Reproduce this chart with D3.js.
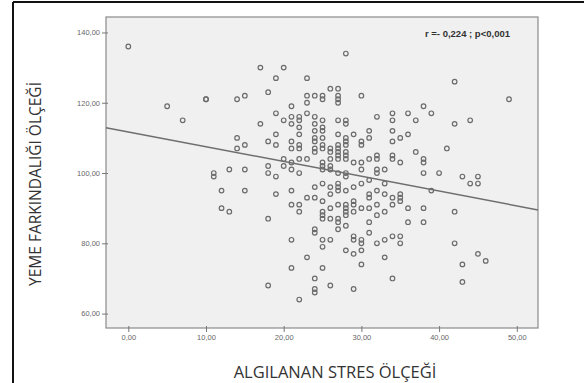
<!DOCTYPE html>
<html>
<head>
<meta charset="utf-8">
<script src="https://cdn.jsdelivr.net/npm/d3@7"></script>
<style>
  html, body { margin: 0; padding: 0; background: #fff; }
  svg { display: block; }
</style>
</head>
<body>
<div id="chart"></div>
<script>
// stress score (x) -> list of awareness scores (y)
const stressLevels = [0, 5, 7, 10, 11, 12, 13, 14, 15, 17, 18, 19, 20, 21, 22, 23, 24, 25, 26, 27, 28, 29, 30, 31, 32, 33, 34, 35, 36, 37, 38, 39, 40, 41, 42, 43, 44, 45, 46, 49];
const awarenessByStress = [
    [136],
    [119],
    [115],
    [121, 121],
    [100, 99],
    [95, 90],
    [101, 89],
    [121, 110, 107],
    [122, 108, 101, 95],
    [130, 114],
    [123, 109, 102, 100, 87, 68],
    [127, 117, 111, 108, 99, 94],
    [130, 115, 104, 102],
    [119, 116, 114, 109, 107, 103, 101, 95, 91, 81, 73],
    [116, 115, 113, 111, 108, 107, 104, 100, 91, 89, 64],
    [127, 122, 120, 117, 104, 93, 76],
    [122, 116, 114, 112, 110, 109, 107, 106, 96, 93, 84, 83, 70, 67, 66],
    [122, 121, 115, 113, 112, 110, 108, 107, 103, 102, 101, 97, 92, 89, 88, 87, 81, 79, 73],
    [124, 107, 106, 104, 102, 101, 96, 94, 90, 87, 81, 68],
    [124, 122, 121, 120, 115, 111, 108, 107, 106, 105, 104, 100, 97, 96, 95, 91, 87, 86, 84],
    [134, 115, 114, 110, 109, 108, 106, 105, 104, 100, 99, 95, 91, 90, 89, 88, 85, 78],
    [111, 103, 96, 92, 91, 89, 82, 81, 77, 67],
    [122, 109, 108, 103, 101, 97, 90, 81, 80, 78, 74],
    [112, 110, 104, 98, 94, 93, 90, 86, 83],
    [116, 105, 104, 101, 100, 95, 91, 88, 80],
    [101, 97, 94, 89, 81, 76],
    [117, 115, 112, 109, 105, 104, 93, 91, 82, 70],
    [110, 103, 94, 93, 92, 82, 80],
    [117, 111, 90, 86],
    [115, 106],
    [119, 104, 103, 100, 90, 86],
    [117, 95],
    [100],
    [107],
    [126, 114, 89, 80],
    [99, 74, 69],
    [115, 97],
    [99, 97, 77],
    [75],
    [121]
];
const xTicks = [0, 10, 20, 30, 40, 50];
const yTicks = [60, 80, 100, 120, 140];
// fit line
const fitIntercept = 111.7;
const fitSlope = -0.421;
const statText = 'r =- 0,224 ; p<0,001';
const xTitle = 'ALGILANAN STRES ÖLÇEĞİ';
const yTitle = 'YEME  FARKINDALIĞI ÖLÇEĞİ';

const points = [];
stressLevels.forEach((s, i) => awarenessByStress[i].forEach(v => points.push({ x: s, y: v })));

const width = 584, height = 383;
const plot = { left: 106, top: 17, right: 538, bottom: 328 };

const svg = d3.select('#chart').append('svg')
    .attr('width', width)
    .attr('height', height);

// outer frame (only top/left visible in the crop)
svg.append('line').attr('x1', 13).attr('x2', 13).attr('y1', 2).attr('y2', height)
    .attr('stroke', '#111').attr('stroke-width', 2);
svg.append('line').attr('x1', 13).attr('x2', width).attr('y1', 2).attr('y2', 2)
    .attr('stroke', '#111').attr('stroke-width', 2);

const x = d3.scaleLinear().domain([-2.87, 52.73]).range([plot.left, plot.right]);
const y = d3.scaleLinear().domain([55.9, 144.4]).range([plot.bottom, plot.top]);

svg.append('rect')
    .attr('x', plot.left).attr('y', plot.top)
    .attr('width', plot.right - plot.left).attr('height', plot.bottom - plot.top)
    .attr('fill', '#f0f0f0')
    .attr('stroke', '#8a8a8a')
    .attr('stroke-width', 1.2);

const fmt = d => d.toFixed(2).replace('.', ',');

const xAxis = svg.append('g')
    .attr('transform', `translate(0,${plot.bottom})`)
    .call(d3.axisBottom(x).tickValues(xTicks).tickSize(5).tickFormat(fmt));
const yAxis = svg.append('g')
    .attr('transform', `translate(${plot.left},0)`)
    .call(d3.axisLeft(y).tickValues(yTicks).tickSize(5).tickFormat(fmt));

[xAxis, yAxis].forEach(a => {
    a.select('.domain').remove();
    a.selectAll('line').attr('stroke', '#777');
    a.selectAll('text')
        .attr('fill', '#666')
        .style('font-family', 'Arial, "Liberation Sans", sans-serif')
        .style('font-size', '7.5px');
});
xAxis.selectAll('line').attr('y1', -2).attr('y2', 4);
xAxis.selectAll('text').attr('dy', '0.71em').attr('y', 7);
yAxis.selectAll('line').attr('x1', 2).attr('x2', -4);
yAxis.selectAll('text').attr('x', -6);

// scatter points
svg.append('g')
    .selectAll('circle')
    .data(points)
    .join('circle')
    .attr('cx', d => x(d.x))
    .attr('cy', d => y(d.y))
    .attr('r', 2.3)
    .attr('fill', 'none')
    .attr('stroke', '#6b6b6b')
    .attr('stroke-width', 1.2);

// fit line across the plot
const xDom = x.domain();
svg.append('line')
    .attr('x1', x(xDom[0])).attr('y1', y(fitIntercept + fitSlope * xDom[0]))
    .attr('x2', x(xDom[1])).attr('y2', y(fitIntercept + fitSlope * xDom[1]))
    .attr('stroke', '#6e6e6e')
    .attr('stroke-width', 1.5);

svg.append('text')
    .attr('x', 510).attr('y', 37)
    .attr('text-anchor', 'end')
    .style('font-family', 'Arial, "Liberation Sans", sans-serif')
    .style('font-size', '9.5px')
    .style('font-weight', 'bold')
    .attr('fill', '#333')
    .text(statText);

svg.append('text')
    .attr('x', 335).attr('y', 378)
    .attr('text-anchor', 'middle')
    .style('font-family', '"Open Sans", sans-serif')
    .style('font-size', '16.5px')
    .attr('fill', '#333')
    .text(xTitle);

svg.append('text')
    .attr('transform', 'translate(41,184) rotate(-90)')
    .attr('text-anchor', 'middle')
    .style('font-family', '"Open Sans", sans-serif')
    .style('font-size', '15.5px')
    .attr('fill', '#333')
    .text(yTitle);
</script>
</body>
</html>
